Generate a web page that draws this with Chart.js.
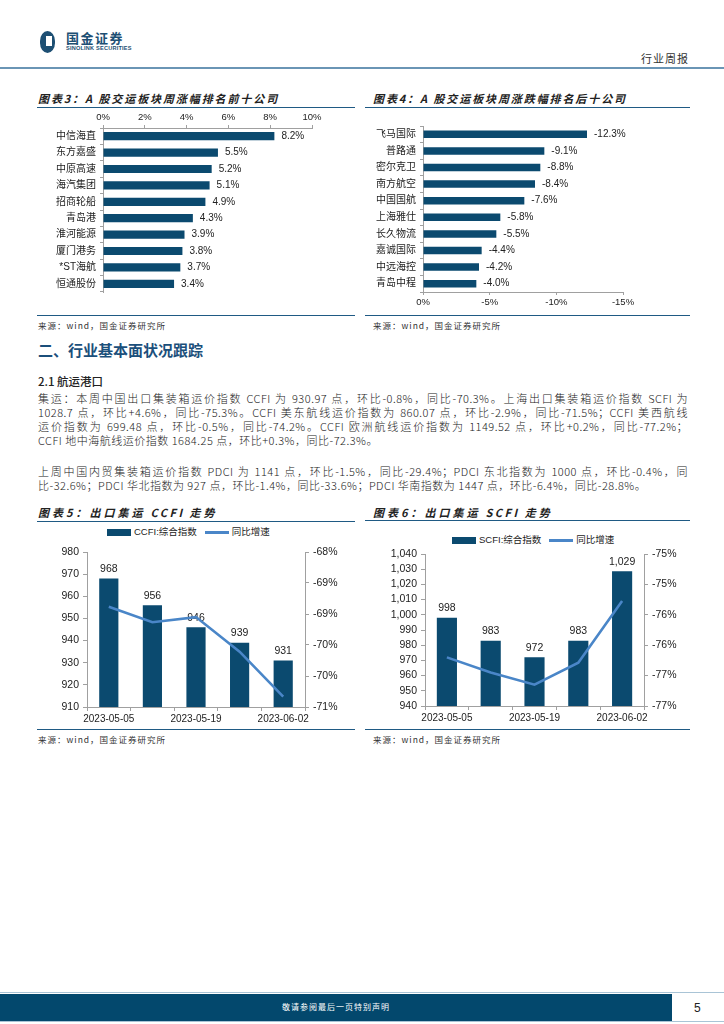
<!DOCTYPE html>
<html lang="zh-CN">
<head>
<meta charset="UTF-8">
<title>行业周报</title>
<script src="https://cdn.jsdelivr.net/npm/chart.js@4.4.0/dist/chart.umd.min.js"></script>
<style>
  body {
    margin: 0;
    width: 724px;
    height: 1024px;
    position: relative;
    overflow: hidden;
    background: #fff;
    font-family: "Noto Sans CJK SC", sans-serif;
    color: #222;
  }
  .abs { position: absolute; }
  .title {
    font-size: 11px;
    line-height: 14px;
    font-weight: bold;
    font-style: italic;
    letter-spacing: 1.9px;
    color: #222;
    white-space: nowrap;
  }
  .title .lat { letter-spacing: 2.5px; margin: 0 5px; }
  .rule { height: 0; border-top: 1.5px solid #1f5a84; }
  .src {
    font-size: 8.5px;
    line-height: 12px;
    letter-spacing: 1px;
    color: #333;
    white-space: nowrap;
  }
  .box { position: absolute; }
  .legend {
    position: absolute;
    font-family: "Liberation Sans", "Noto Sans CJK SC", sans-serif;
    font-size: 9.5px;
    line-height: 12px;
    white-space: nowrap;
    display: flex;
    align-items: center;
  }
  .sw-bar { display: inline-block; width: 24px; height: 7px; background: #0b4a6f; margin-right: 3px; }
  .sw-line { display: inline-block; width: 24px; height: 3px; background: #4a86c8; margin: 0 3px 0 8px; }
  .para { left: 38px; width: 650px; font-size: 11px; line-height: 14px; letter-spacing: 0.5px; font-weight: 300; color: #222; }
  .para div { text-align: justify; text-align-last: justify; white-space: nowrap; }
  .para div.last { text-align-last: left; }
</style>
</head>
<body>

<!-- 页眉 -->
<div class="abs" style="left:40px;top:31px;width:15px;height:22px;background:#1d4f73;border-radius:50% / 45%;"></div>
<div class="abs" style="left:46px;top:36px;width:6px;height:10px;background:#fff;"></div>
<div class="abs" style="left:66px;top:30px;font-size:13px;line-height:16px;font-weight:bold;letter-spacing:1.5px;color:#1d4f73;">国金证券</div>
<div class="abs" style="left:66px;top:45px;font-family:'Liberation Sans',sans-serif;font-size:5.6px;line-height:6px;font-weight:bold;letter-spacing:0.2px;color:#1d4f73;">SINOLINK SECURITIES</div>
<div class="abs" style="left:641px;top:51px;font-size:11px;line-height:14px;letter-spacing:1px;color:#333;">行业周报</div>
<div class="abs" style="left:0;top:67px;width:724px;height:2px;background:#6a95b5;"></div>

<!-- 图表3 -->
<div class="abs title" style="left:38px;top:91px;">图表3：A 股交运板块周涨幅排名前十公司</div>
<div class="abs rule" style="left:37px;top:107px;width:318px;"></div>
<div class="box" style="left:37px;top:110px;width:318px;height:192px;"><canvas id="c3"></canvas></div>
<div class="abs rule" style="left:37px;top:315px;width:318px;"></div>
<div class="abs src" style="left:38px;top:319px;">来源：wind，国金证券研究所</div>

<!-- 图表4 -->
<div class="abs title" style="left:373px;top:91px;">图表4：A 股交运板块周涨跌幅排名后十公司</div>
<div class="abs rule" style="left:365px;top:107px;width:325px;"></div>
<div class="box" style="left:365px;top:110px;width:335px;height:197px;"><canvas id="c4"></canvas></div>
<div class="abs rule" style="left:365px;top:315px;width:325px;"></div>
<div class="abs src" style="left:373px;top:319px;">来源：wind，国金证券研究所</div>

<!-- 正文 -->
<div class="abs" style="left:38px;top:340px;font-size:15px;line-height:20px;font-weight:bold;color:#1b4f7b;">二、行业基本面状况跟踪</div>
<div class="abs" style="left:38px;top:374px;font-size:11.5px;line-height:14px;font-weight:500;color:#222;">2.1 航运港口</div>
<div class="abs para" style="top:391px;">
  <div>集运：本周中国出口集装箱运价指数 CCFI 为 930.97 点，环比-0.8%，同比-70.3%。上海出口集装箱运价指数 SCFI 为</div>
  <div>1028.7 点，环比+4.6%，同比-75.3%。CCFI 美东航线运价指数为 860.07 点，环比-2.9%，同比-71.5%；CCFI 美西航线</div>
  <div>运价指数为 699.48 点，环比-0.5%，同比-74.2%。CCFI 欧洲航线运价指数为 1149.52 点，环比+0.2%，同比-77.2%；</div>
  <div class="last">CCFI 地中海航线运价指数 1684.25 点，环比+0.3%，同比-72.3%。</div>
</div>
<div class="abs para" style="top:464px;">
  <div>上周中国内贸集装箱运价指数 PDCI 为 1141 点，环比-1.5%，同比-29.4%；PDCI 东北指数为 1000 点，环比-0.4%，同</div>
  <div class="last">比-32.6%；PDCI 华北指数为 927 点，环比-1.4%，同比-33.6%；PDCI 华南指数为 1447 点，环比-6.4%，同比-28.8%。</div>
</div>

<!-- 图表5 -->
<div class="abs title" style="left:38px;top:505px;letter-spacing:3px;">图表5：出口集运<span class="lat">CCFI</span>走势</div>
<div class="abs rule" style="left:37px;top:521px;width:318px;"></div>
<div class="legend" style="left:107px;top:526px;"><span class="sw-bar"></span>CCFI:综合指数<span class="sw-line"></span>同比增速</div>
<div class="box" style="left:37px;top:540px;width:318px;height:188px;"><canvas id="c5"></canvas></div>
<div class="abs rule" style="left:37px;top:729px;width:318px;"></div>
<div class="abs src" style="left:38px;top:733px;">来源：wind，国金证券研究所</div>

<!-- 图表6 -->
<div class="abs title" style="left:373px;top:505px;letter-spacing:3px;">图表6：出口集运<span class="lat">SCFI</span>走势</div>
<div class="abs rule" style="left:365px;top:520px;width:325px;"></div>
<div class="legend" style="left:452px;top:534px;"><span class="sw-bar"></span>SCFI:综合指数<span class="sw-line"></span>同比增速</div>
<div class="box" style="left:365px;top:542px;width:335px;height:185px;"><canvas id="c6"></canvas></div>
<div class="abs rule" style="left:365px;top:729px;width:325px;"></div>
<div class="abs src" style="left:373px;top:733px;">来源：wind，国金证券研究所</div>

<!-- 页脚 -->
<div class="abs" style="left:0;top:992px;width:724px;height:1px;background:#a9c4d6;"></div>
<div class="abs" style="left:0;top:994px;width:672px;height:27px;background:#03486d;"></div>
<div class="abs" style="left:0;top:1021px;width:724px;height:1px;background:#a9c4d6;"></div>
<div class="abs" style="left:0;top:1001px;width:672px;text-align:center;font-size:8px;line-height:12px;letter-spacing:1px;color:#fff;">敬请参阅最后一页特别声明</div>
<div class="abs" style="left:694px;top:1000px;font-family:'Liberation Sans',sans-serif;font-size:12px;line-height:16px;color:#222;">5</div>

<script>
  // 图表3：周涨幅前十
  const names3 = ['中信海直', '东方嘉盛', '中原高速', '海汽集团', '招商轮船', '青岛港', '淮河能源', '厦门港务', '*ST海航', '恒通股份'];
  const vals3 = [8.2, 5.5, 5.2, 5.1, 4.9, 4.3, 3.9, 3.8, 3.7, 3.4];
  const range3 = [0, 10, 2];

  // 图表4：周跌幅后十
  const names4 = ['飞马国际', '普路通', '密尔克卫', '南方航空', '中国国航', '上海雅仕', '长久物流', '嘉诚国际', '中远海控', '青岛中程'];
  const vals4 = [-12.3, -9.1, -8.8, -8.4, -7.6, -5.8, -5.5, -4.4, -4.2, -4.0];
  const range4 = [-15, 0, 5];

  // 图表5/6：周度
  const weeks = ['2023-05-05', '2023-05-12', '2023-05-19', '2023-05-26', '2023-06-02'];
  const ccfi = [968, 956, 946, 939, 931];
  const ccfiYoy = [-69.06, -69.36, -69.26, -69.93, -70.80];
  const ccfiRange = [910, 980, 10];
  const ccfiYoyRange = [-71, -68, 0.6];
  const scfi = [998, 983, 972, 983, 1028.7];
  const scfiYoy = [-76.36, -76.56, -76.72, -76.43, -75.62];
  const scfiRange = [940, 1040, 10];
  const scfiYoyRange = [-77, -75, 0.4];

  const BAR = '#0b4a6f';
  const LINE = '#4a86c8';
  const AXIS = '#a0a0a0';

  Chart.defaults.font.family = '"Liberation Sans", "Noto Sans CJK SC", sans-serif';
  Chart.defaults.color = '#222';
  Chart.defaults.animation = false;

  // 柱子数值标签
  const barLabels = {
    id: 'barLabels',
    afterDatasetDraw(chart, args, opts) {
      const ds = chart.data.datasets[args.index];
      if (ds.type === 'line') return;
      const ctx = chart.ctx;
      const horiz = chart.options.indexAxis === 'y';
      ctx.save();
      ctx.font = (opts.size || 10) + 'px "Liberation Sans", "Noto Sans CJK SC", sans-serif';
      ctx.fillStyle = '#222';
      args.meta.data.forEach((el, i) => {
        const d = opts.decimals || 0;
        const txt = ds.data[i].toLocaleString('en-US', { minimumFractionDigits: d, maximumFractionDigits: d }) + (opts.suffix || '');
        if (horiz) {
          ctx.textAlign = 'left';
          ctx.textBaseline = 'middle';
          ctx.fillText(txt, Math.max(el.x, el.base) + 7, el.y);
        } else {
          ctx.textAlign = 'center';
          ctx.textBaseline = 'bottom';
          ctx.fillText(txt, el.x, el.y - 4);
        }
      });
      ctx.restore();
    }
  };

  function hbar(id, names, vals, range, xPos, pad, yWidth, xHeight, barPct) {
    new Chart(document.getElementById(id), {
      type: 'bar',
      data: {
        labels: names,
        datasets: [{ data: vals, backgroundColor: BAR, barPercentage: barPct, categoryPercentage: 1 }]
      },
      plugins: [barLabels],
      options: {
        indexAxis: 'y',
        responsive: true,
        maintainAspectRatio: false,
        layout: { padding: pad },
        plugins: {
          legend: { display: false },
          tooltip: { enabled: false },
          barLabels: { decimals: 1, suffix: '%', size: 10 }
        },
        scales: {
          x: {
            position: xPos,
            min: range[0],
            max: range[1],
            reverse: range[1] <= 0,
            ticks: { stepSize: range[2], callback: v => v + '%', font: { size: 9.5 }, padding: 2, maxRotation: 0 },
            grid: { drawOnChartArea: false, tickLength: 3, color: AXIS },
            border: { color: AXIS },
            afterFit: s => { s.height = xHeight; }
          },
          y: {
            ticks: { font: { size: 10 }, padding: 4, autoSkip: false },
            grid: { drawOnChartArea: false, tickLength: 3, color: AXIS },
            border: { color: AXIS },
            afterFit: s => { s.width = yWidth; }
          }
        }
      }
    });
  }

  function combo(id, label, bars, yoy, range, yoyRange, pad, lw, rw, barPct, fmt) {
    new Chart(document.getElementById(id), {
      type: 'bar',
      data: {
        labels: weeks,
        datasets: [
          { type: 'bar', label: label, data: bars, backgroundColor: BAR, barPercentage: barPct, categoryPercentage: 1, order: 2, yAxisID: 'y' },
          { type: 'line', label: '同比增速', data: yoy, borderColor: LINE, borderWidth: 2.6, pointRadius: 0, tension: 0, order: 1, yAxisID: 'y1' }
        ]
      },
      plugins: [barLabels],
      options: {
        responsive: true,
        maintainAspectRatio: false,
        layout: { padding: pad },
        plugins: {
          legend: { display: false },
          tooltip: { enabled: false },
          barLabels: { decimals: 0, suffix: '', size: 10.5 }
        },
        scales: {
          x: {
            ticks: { autoSkip: false, maxRotation: 0, font: { size: 10 }, padding: 2,
              callback: (v, i) => (i % 2 === 0 ? weeks[i] : '') },
            grid: { drawOnChartArea: false, tickLength: 4, color: AXIS },
            border: { color: AXIS },
            afterFit: s => { s.height = 21; }
          },
          y: {
            position: 'left',
            min: range[0],
            max: range[1],
            ticks: { stepSize: range[2], autoSkip: false, font: { size: 10.5 }, padding: 4, callback: fmt },
            grid: { drawOnChartArea: false, tickLength: 4, color: AXIS },
            border: { color: AXIS },
            afterFit: s => { s.width = lw; }
          },
          y1: {
            position: 'right',
            min: yoyRange[0],
            max: yoyRange[1],
            ticks: { stepSize: yoyRange[2], autoSkip: false, font: { size: 10.5 }, padding: 4, callback: v => v.toFixed(0) + '%' },
            grid: { drawOnChartArea: false, tickLength: 4, color: AXIS },
            border: { color: AXIS },
            afterFit: s => { s.width = rw; }
          }
        }
      }
    });
  }

  hbar('c3', names3, vals3, range3, 'top', { top: 0, right: 43, bottom: 6, left: 0 }, 66, 18, 0.5);
  hbar('c4', names4, vals4, range4, 'bottom', { top: 16, right: 77, bottom: 0, left: 0 }, 58, 15, 0.45);
  combo('c5', 'CCFI:综合指数', ccfi, ccfiYoy, ccfiRange, ccfiYoyRange, { top: 12, right: 0, bottom: 0, left: 0 }, 50, 50, 0.44, v => v);
  combo('c6', 'SCFI:综合指数', scfi, scfiYoy, scfiRange, scfiYoyRange, { top: 12, right: 0, bottom: 0, left: 0 }, 60, 56, 0.46, v => v.toLocaleString('en-US'));
</script>
</body>
</html>
